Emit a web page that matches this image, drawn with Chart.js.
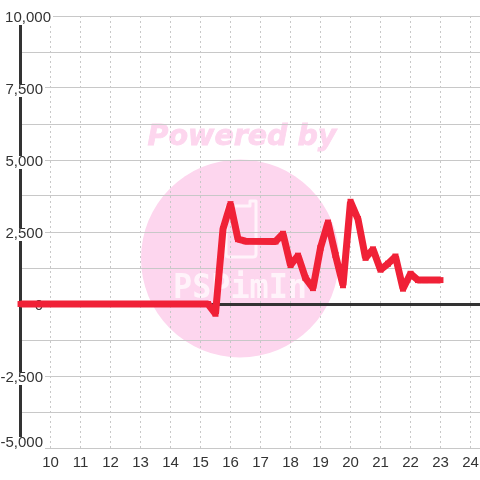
<!DOCTYPE html>
<html>
<head>
<meta charset="utf-8">
<title>Chart</title>
<script src="https://cdn.jsdelivr.net/npm/chart.js@4"></script>
<style>
  html, body { margin: 0; padding: 0; background: #fff; }
  #wrap { width: 480px; height: 480px; }
</style>
</head>
<body>
<div id="wrap"><canvas id="chart" width="480" height="480"></canvas></div>
<script>
// ─── Data ─────────────────────────────────────────────────────────────────────

const hours = [9, 15.25, 15.5, 15.75, 16, 16.25, 16.5, 17.5, 17.75, 18, 18.25, 18.5, 18.75, 19, 19.25, 19.5, 19.75, 20, 20.25, 20.5, 20.75, 21, 21.25, 21.5, 21.75, 22, 22.25, 22.5, 23];
const values = [0, 0, -340, 2600, 3470, 2250, 2180, 2170, 2440, 1350, 1680, 900, 550, 1950, 2830, 1700, 650, 3550, 2950, 1600, 1900, 1190, 1400, 1650, 530, 1050, 830, 830, 830];

const xTicks = [10, 11, 12, 13, 14, 15, 16, 17, 18, 19, 20, 21, 22, 23, 24];
const yTicks = [-5000, -3750, -2500, -1250, 0, 1250, 2500, 3750, 5000, 6250, 7500, 8750, 10000];
const yLabelled = [-5000, -2500, 0, 2500, 5000, 7500, 10000];

const watermarkTop = 'Powered by';
const watermarkLogo = 'PSPimIn';

// ─── Plugins ──────────────────────────────────────────────────────────────────

const PINK = '#fdd6ee';

const watermark = {
  id: 'watermark',
  beforeDraw(chart) {
    const c = chart.ctx;
    c.save();
    c.fillStyle = PINK;
    c.beginPath();
    c.arc(240, 258.5, 99, 0, Math.PI * 2);
    c.fill();

    c.font = 'italic bold 28.5px "DejaVu Sans"';
    c.textAlign = 'center';
    c.textBaseline = 'alphabetic';
    c.strokeStyle = PINK;
    c.lineWidth = 0.8;
    c.fillText(watermarkTop, 242, 145);
    c.strokeText(watermarkTop, 242, 145);

    // phone outline with the little tab at the top right
    c.strokeStyle = '#fff3fa';
    c.lineWidth = 3;
    c.lineJoin = 'round';
    c.beginPath();
    c.moveTo(229, 206);
    c.lineTo(250, 206);
    c.lineTo(250, 201);
    c.lineTo(256, 201);
    c.lineTo(256, 254);
    c.quadraticCurveTo(256, 257, 253, 257);
    c.lineTo(229, 257);
    c.quadraticCurveTo(226, 257, 226, 254);
    c.lineTo(226, 209);
    c.quadraticCurveTo(226, 206, 229, 206);
    c.stroke();

    c.fillStyle = '#fff3fa';
    c.font = 'bold 34px "DejaVu Sans Mono"';
    c.fillText(watermarkLogo, 240, 298, 134);
    c.restore();
  },
};

// y labels sit on top of the axis with a white box, and the end ones get pushed inside
const yLabels = {
  id: 'yLabels',
  beforeDatasetsDraw(chart) {
    const c = chart.ctx;
    const scale = chart.scales.y;
    c.save();
    c.font = '15px "Liberation Sans"';
    c.textAlign = 'right';
    c.textBaseline = 'middle';
    yLabelled.forEach(v => {
      const text = v.toLocaleString('en-US');
      const right = v === 10000 ? 51 : 43;
      const cy = v === -5000 ? 443 : scale.getPixelForValue(v) + 2;
      const w = c.measureText(text).width;
      c.fillStyle = '#fff';
      c.fillRect(right - w - 2, cy - 6, w + 4, 13);
      c.fillStyle = '#333';
      c.fillText(text, right, cy);
    });
    c.restore();
  },
};

// ─── Chart ────────────────────────────────────────────────────────────────────

new Chart(document.getElementById('chart').getContext('2d'), {
  type: 'line',
  data: {
    datasets: [{
      data: hours.map((h, i) => ({ x: h, y: values[i] })),
      borderColor: '#f02137',
      backgroundColor: '#f02137',
      borderWidth: 7,
      pointStyle: 'rect',
      pointRadius: 4.2,
      pointBorderWidth: 0,
      tension: 0,
      borderJoinStyle: 'bevel',
      clip: false,
    }],
  },
  options: {
    responsive: false,
    animation: false,
    layout: { autoPadding: false, padding: { top: 16 } },
    plugins: { legend: { display: false }, tooltip: { enabled: false } },
    scales: {
      x: {
        type: 'linear',
        min: 8.983,
        max: 24.317,
        afterBuildTicks: axis => { axis.ticks = xTicks.map(value => ({ value })); },
        afterFit: axis => {
          axis.height = 32;
          axis.paddingLeft = 0;
          axis.paddingRight = 0;
        },
        border: { display: false, dash: [2, 3] },
        grid: { color: '#c8c8c8', lineWidth: 1, drawTicks: false },
        ticks: {
          color: '#333',
          padding: 6,
          maxRotation: 0,
          autoSkip: false,
          font: { family: 'Liberation Sans', size: 15 },
        },
      },
      y: {
        min: -5000,
        max: 10000,
        afterBuildTicks: axis => { axis.ticks = yTicks.map(value => ({ value })); },
        afterFit: axis => { axis.width = 20; },
        border: { color: '#333', width: 3 },
        grid: {
          drawTicks: false,
          color: ctx => (ctx.tick && ctx.tick.value === 0 ? '#333' : '#c8c8c8'),
          lineWidth: ctx => (ctx.tick && ctx.tick.value === 0 ? 3 : 1),
        },
        ticks: { display: false },
      },
    },
  },
  plugins: [watermark, yLabels],
});
</script>
</body>
</html>
